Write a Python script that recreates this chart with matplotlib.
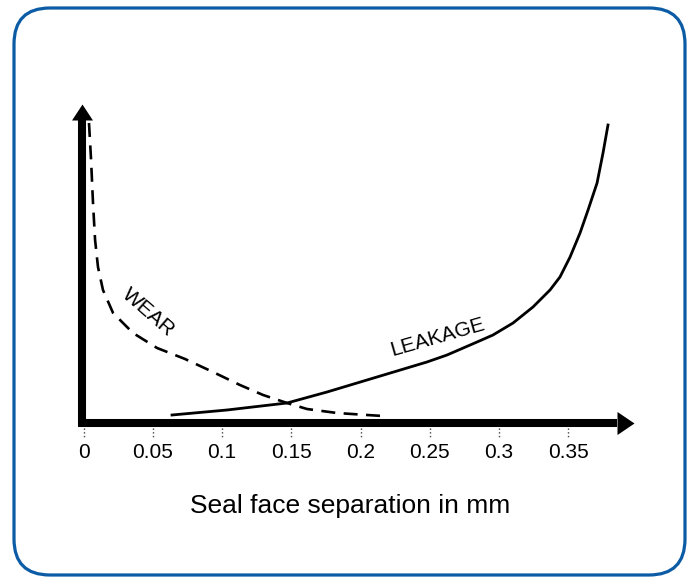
import matplotlib
matplotlib.use("Agg")
import matplotlib.pyplot as plt
from matplotlib.patches import FancyBboxPatch

plt.rcParams['font.family'] = ['Liberation Sans', 'DejaVu Sans']

# curve values (x in mm, y in arbitrary units)
wear_x = [0.0038, 0.0053, 0.0067, 0.0082, 0.0103, 0.0139, 0.0212, 0.0356, 0.0530,
          0.0732, 0.0934, 0.1129, 0.1296, 0.1469, 0.1613, 0.1830, 0.2047, 0.2163]
wear_y = [3.00, 2.63, 2.20, 1.83, 1.56, 1.33, 1.10, 0.90, 0.75,
          0.64, 0.51, 0.38, 0.28, 0.20, 0.14, 0.10, 0.08, 0.07]

leak_x = [0.0638, 0.1035, 0.1469, 0.1758, 0.2119, 0.2480, 0.2625, 0.2842, 0.2957,
          0.3102, 0.3246, 0.3369, 0.3441, 0.3514, 0.3586, 0.3644, 0.3709, 0.3752, 0.3788]
leak_y = [0.08, 0.13, 0.20, 0.31, 0.46, 0.61, 0.68, 0.81, 0.88,
          1.00, 1.16, 1.33, 1.46, 1.66, 1.90, 2.13, 2.40, 2.70, 2.98]

tick_values = [0, 0.05, 0.1, 0.15, 0.2, 0.25, 0.3, 0.35]
tick_labels = ['0', '0.05', '0.1', '0.15', '0.2', '0.25', '0.3', '0.35']

x_label = 'Seal face separation in mm'

fig = plt.figure(figsize=(6.92, 5.79), dpi=100)
ax = fig.add_axes([0, 0, 1, 1])
ax.set_xlim(-0.0605, 0.4395)
ax.set_ylim(-1.56, 4.23)

# blue rounded frame, in pixels
frame = FancyBboxPatch((14, 4), 671, 567, boxstyle="round,pad=0,rounding_size=36",
                       transform=None, fill=False, edgecolor='#0b5ba5', linewidth=2.3)
fig.patches.append(frame)

# curves
ax.plot(wear_x, wear_y, color='black', lw=1.9, dashes=(5.3, 3.2), solid_capstyle='butt')
ax.plot(leak_x, leak_y, color='black', lw=2.0, solid_joinstyle='round')

ax.text(0.0465, 1.11, 'WEAR', rotation=-41, fontsize=15, ha='center', va='center',
        rotation_mode='anchor')
ax.text(0.2556, 0.86, 'LEAKAGE', rotation=16, fontsize=15, ha='center', va='center',
        rotation_mode='anchor')

# thick axes with arrow heads
ax.plot([-0.0012, -0.0012], [-0.04, 3.04], color='black', lw=5.8, solid_capstyle='butt')
ax.plot([-0.0041, 0.3856], [0, 0], color='black', lw=5.8, solid_capstyle='butt')
up_head = [(-10.5, 0), (10.5, 0), (0, 16), (-10.5, 0)]
right_head = [(0, -11.5), (0, 11.5), (17, 0), (0, -11.5)]
ax.plot([-0.0012], [3.03], marker=up_head, ms=23, color='black', mew=0)
ax.plot([0.3853], [0], marker=right_head, ms=24.5, color='black', mew=0)

# ticks: dotted marks under the axis, labels below
for s in ['top', 'right', 'left', 'bottom']:
    ax.spines[s].set_visible(False)
ax.spines['bottom'].set_position(('data', -0.05))
ax.set_yticks([])
ax.set_xticks(tick_values, tick_labels)
ax.tick_params(axis='x', length=0, pad=11, labelsize=15)
ax.vlines(tick_values, -0.05, -0.15, colors='#444444', linestyles=':', lw=1)

fig.text(350 / 692, 1 - 506 / 579, x_label, fontsize=19, ha='center', va='center')

fig.savefig('out.png', dpi=100)
